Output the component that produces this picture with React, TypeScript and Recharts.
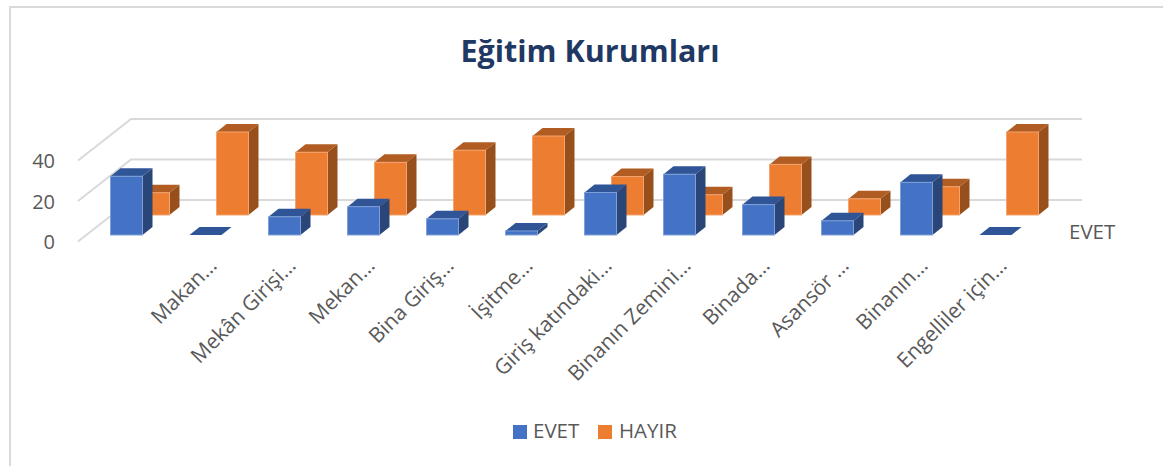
import React from "react";
import { ComposedChart, Bar, Line, XAxis, YAxis, Legend } from "recharts";

const categories = [
  "",
  "Makan…",
  "Mekân Girişi…",
  "Mekan…",
  "Bina Giriş…",
  "İşitme…",
  "Giriş katındaki…",
  "Binanın Zemini…",
  "Binada…",
  "Asansör …",
  "Binanın…",
  "Engelliler için…",
];
const evet = [29, 0, 9, 14, 8, 2, 21, 30, 15, 7, 26, 0];
const hayir = [11, 41, 31, 26, 32, 39, 19, 10, 25, 8, 14, 41];
const axisTicks = [0, 20, 40];

const data = categories.map((name, i) => ({ name, EVET: evet[i], HAYIR: hayir[i] }));

const TEXT = "#595959";
const GRID = "#d9d9d9";
const FONT = "'Open Sans', sans-serif";

// the 3D look: each box gets a top and a side face
const DEPTH_X = 10;
const DEPTH_Y = 8;

// wall gridlines: from the front of the side wall, to the back corner, along the back wall
const wallLine = (t: number) => [
  { wallX: 78, wallY: t - 20.5 },
  { wallX: 131, wallY: t },
  { wallX: 1082, wallY: t },
];

const makeBox = (front: string, top: string, side: string, edge: string) => (props: any) => {
  const { x, y, width, height } = props;
  const r = x + width;
  const b = y + height;
  return (
    <g>
      <polygon
        points={`${r},${y} ${r + DEPTH_X},${y - DEPTH_Y} ${r + DEPTH_X},${b - DEPTH_Y} ${r},${b}`}
        fill={side}
      />
      <polygon
        points={`${x},${y} ${x + DEPTH_X},${y - DEPTH_Y} ${r + DEPTH_X},${y - DEPTH_Y} ${r},${y}`}
        fill={top}
      />
      {height > 0 && (
        <rect x={x} y={y} width={width} height={height} fill={front} stroke={edge} strokeWidth={1} />
      )}
    </g>
  );
};

const BlueBox = makeBox("#4472C4", "#2F5597", "#2A4679", "#7f9fd8");
const OrangeBox = makeBox("#ED7D31", "#B05C22", "#97501B", "#f3a470");

const CategoryTick = ({ x, y, payload }: any) => (
  <text
    x={x + 13}
    y={y + 14}
    textAnchor="end"
    fontSize={21}
    fontFamily={FONT}
    fill={TEXT}
    transform={`rotate(-45 ${x + 13} ${y + 14})`}
  >
    {payload.value}
  </text>
);

const LegendContent = () => (
  <div style={{ position: "absolute", left: 513, top: 0, fontFamily: FONT, fontSize: 20.5, color: TEXT, whiteSpace: "nowrap" }}>
    <span style={{ position: "absolute", left: 0, top: 0, width: 14, height: 14, background: "#4472C4" }} />
    <span style={{ position: "absolute", left: 20, top: -9 }}>EVET</span>
    <span style={{ position: "absolute", left: 85, top: 0, width: 14, height: 14, background: "#ED7D31" }} />
    <span style={{ position: "absolute", left: 106, top: -9 }}>HAYIR</span>
  </div>
);

export default function App() {
  return (
    <div style={{ position: "absolute", left: 0, top: 0, width: 1163, height: 466, background: "#fff", overflow: "hidden" }}>
      <div style={{ position: "absolute", left: 9, top: 6, right: 0, bottom: 0, borderTop: `2px solid ${GRID}`, borderLeft: `2px solid ${GRID}` }} />
      <div style={{ position: "absolute", left: 0, width: 1180, top: 30, textAlign: "center", fontFamily: FONT, fontWeight: 700, fontSize: 30.5, lineHeight: "41px", color: "#1F3864" }}>
        Eğitim Kurumları
      </div>
      <div style={{ position: "absolute", left: 1069, top: 218, fontFamily: FONT, fontSize: 20.5, lineHeight: "26px", color: TEXT }}>
        EVET
      </div>
      <ComposedChart
        width={1163}
        height={466}
        data={data}
        margin={{ top: 115, right: 73, bottom: 21, left: 10 }}
        style={{ position: "absolute", left: 0, top: 0 }}
      >
        {/* one category axis per row of boxes, shifted against each other */}
        <XAxis
          xAxisId="evet"
          dataKey="name"
          interval={0}
          height={200}
          padding={{ left: 16.5, right: 55.5 }}
          axisLine={false}
          tickLine={false}
          tick={<CategoryTick />}
        />
        <XAxis xAxisId="hayir" dataKey="name" hide height={0} padding={{ left: 43.5, right: 28.5 }} />
        <XAxis xAxisId="wall" dataKey="wallX" type="number" hide height={0} domain={[70, 1090]} />

        {/* floor levels differ, so each row has its own value axis with the same scale */}
        <YAxis
          yAxisId="front"
          domain={[-1.48, 62.72]}
          ticks={axisTicks}
          width={60}
          axisLine={false}
          tickLine={false}
          tickSize={0}
          tickMargin={15}
          tick={{ fill: TEXT, fontSize: 20, fontFamily: FONT }}
        />
        <YAxis yAxisId="evet" hide width={0} domain={[-4.94, 59.26]} />
        <YAxis yAxisId="hayir" hide width={0} domain={[-14.81, 49.38]} />
        <YAxis yAxisId="wall" hide width={0} domain={[-22.22, 41.98]} />

        {/* invisible series: an axis without a series draws nothing */}
        <Line dataKey="EVET" xAxisId="evet" yAxisId="front" stroke="none" dot={false} activeDot={false} isAnimationActive={false} />

        {axisTicks.map((t) => (
          <Line
            key={t}
            data={wallLine(t)}
            dataKey="wallY"
            xAxisId="wall"
            yAxisId="wall"
            stroke={GRID}
            strokeWidth={2}
            dot={false}
            activeDot={false}
            isAnimationActive={false}
            zIndex={-50}
          />
        ))}

        <Bar
          dataKey="HAYIR"
          xAxisId="hayir"
          yAxisId="hayir"
          barSize={32}
          fill="#ED7D31"
          shape={OrangeBox}
          isAnimationActive={false}
        />
        <Bar
          dataKey="EVET"
          xAxisId="evet"
          yAxisId="evet"
          barSize={32}
          fill="#4472C4"
          shape={BlueBox}
          isAnimationActive={false}
          zIndex={310}
        />
        <Legend content={<LegendContent />} wrapperStyle={{ position: "absolute", left: 0, top: 425, width: 0, height: 0 }} />
      </ComposedChart>
    </div>
  );
}
